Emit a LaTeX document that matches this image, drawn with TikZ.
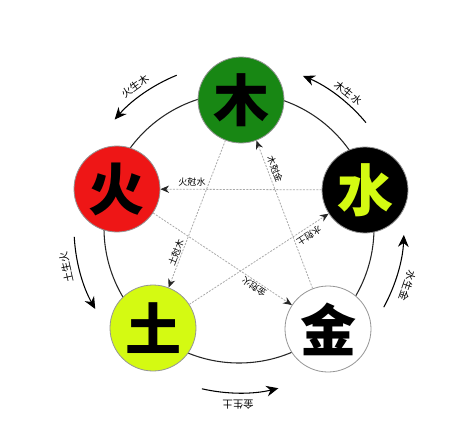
\documentclass[tikz,border=0pt]{standalone}
\usepackage{fontspec}
\newfontfamily\cjk{Noto Sans CJK SC}
\usetikzlibrary{arrows.meta,calc}
\definecolor{wxgreen}{RGB}{24,135,20}
\definecolor{wxred}{RGB}{238,22,22}
\definecolor{wxlime}{RGB}{212,250,18}
\definecolor{wxedge}{RGB}{150,150,150}
\definecolor{wxstar}{RGB}{170,170,170}
\tikzset{
  element/.style={circle, draw=wxedge, line width=0.6pt, minimum size=64.5pt, inner sep=0pt,
    font=\cjk\bfseries\fontsize{42}{42}\selectfont},
  ring/.style={draw=black!85, line width=0.8pt},
  genarrow/.style={draw=black, line width=0.8pt, -{Stealth[length=9pt,width=8pt]}},
  ctrlarrow/.style={draw=wxstar, line width=0.6pt, dash pattern=on 1.5pt off 1pt,
    -{Stealth[length=6.5pt,width=5.5pt,color=black!85]}},
  outlabel/.style={font=\cjk\fontsize{7.8}{8}\selectfont, inner sep=0pt},
  inlabel/.style={font=\cjk\fontsize{6.8}{7}\selectfont, inner sep=0pt},
}
\begin{document}
\begin{tikzpicture}[x=0.75pt,y=0.75pt]
\useasboundingbox (0,0) rectangle (454,-421);
\fill[white] (0,0) rectangle (454,-421);
\coordinate (C) at (239,-228);
\draw[ring] (C) circle[radius=101.25pt];

\node[element, fill=wxgreen] (mu) at (241,-100) {木};
\node[element, fill=wxred] (huo) at (117,-189) {火};
\node[element, fill=black, text=wxlime] (shui) at (365,-190) {水};
\node[element, fill=wxlime] (tu) at (153,-328) {土};
\node[element, fill=white] (jin) at (328,-329) {金};

% control (star) lines
\draw[ctrlarrow] (shui) -- (huo);
\draw[ctrlarrow] (mu) -- (tu);
\draw[ctrlarrow] (jin) -- (mu);
\draw[ctrlarrow] (huo) -- (jin);
\draw[ctrlarrow] (tu) -- (shui);

\node[inlabel] (k1) at (192,-182) {火尅水};
\node[inlabel, rotate=-69] (k2) at (275,-169) {木尅金};
\node[inlabel, rotate=69] (k3) at (176,-253) {土尅木};
\node[inlabel, rotate=146] (k4) at (254,-287) {金尅火};
\node[inlabel, rotate=213] (k5) at (309,-236) {水尅土};

% generation arcs
\coordinate (g1) at ($(C)+(112.2:123.75pt)$);
\coordinate (g2) at ($(C)+(39.7:123.75pt)$);
\coordinate (g3) at ($(C)+(-28.7:123.75pt)$);
\coordinate (g4) at ($(C)+(-103:123.75pt)$);
\coordinate (g5) at ($(C)+(183.1:123.75pt)$);
\draw[genarrow] (g1) arc[start angle=112.2, end angle=138.9, radius=123.75pt];
\draw[genarrow] (g2) arc[start angle=39.7, end angle=67.2, radius=123.75pt];
\draw[genarrow] (g3) arc[start angle=-28.7, end angle=-2.4, radius=123.75pt];
\draw[genarrow] (g4) arc[start angle=-103, end angle=-76.2, radius=123.75pt];
\draw[genarrow] (g5) arc[start angle=183.1, end angle=209.4, radius=123.75pt];

\node[outlabel, rotate=36.2] (s1) at ($(C)+(126.2:132pt)$) {火生木};
\node[outlabel, rotate=-39] (s2) at ($(C)+(51:130.5pt)$) {木生水};
\node[outlabel, rotate=-109] (s3) at ($(C)+(-19:133.5pt)$) {水生金};
\node[outlabel, rotate=-180.3] (s4) at ($(C)+(-90.3:132.5pt)$) {金生土};
\node[outlabel, rotate=102.9] (s5) at ($(C)+(192.9:133pt)$) {土生火};
\end{tikzpicture}
\end{document}
